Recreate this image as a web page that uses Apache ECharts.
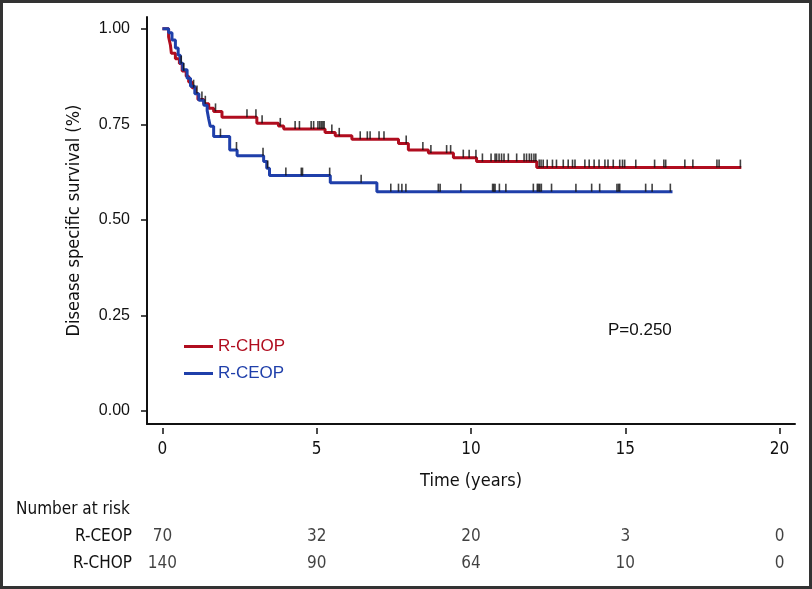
<!DOCTYPE html>
<html><head><meta charset="utf-8">
<script src="https://cdn.jsdelivr.net/npm/echarts@6/dist/echarts.min.js"></script>
<style>html,body{margin:0;padding:0;background:#fff}#c{width:812px;height:589px}</style>
</head><body><div id="c"></div>
<script>
// R-CHOP Kaplan-Meier steps (time in years, survival after drop)
const chopTimes = [0,0.2,0.26,0.29,0.42,0.55,0.64,0.77,0.85,0.96,1.07,1.15,1.34,1.5,1.66,1.93,3.06,3.76,3.93,5.27,5.6,6.14,7.65,7.97,8.62,9.43,10.18,12.13,18.76];
const chopSurv  = [1,0.979,0.957,0.936,0.922,0.909,0.89,0.876,0.861,0.846,0.831,0.815,0.804,0.792,0.784,0.769,0.753,0.746,0.738,0.729,0.72,0.711,0.70,0.683,0.675,0.663,0.653,0.637,0.637];
const chopCensor = [0.61,0.69,1.01,1.12,1.28,1.39,1.72,2.74,3.03,3.23,3.82,4.30,4.44,4.82,4.90,5.04,5.10,5.15,5.20,5.24,5.49,5.73,6.41,6.64,6.73,7.02,7.18,7.90,8.44,8.70,9.21,9.34,9.75,9.94,10.16,10.37,10.65,10.78,10.83,10.91,10.99,11.07,11.21,11.48,11.72,11.80,11.89,11.96,12.04,12.10,12.21,12.27,12.34,12.47,12.64,12.77,12.99,13.15,13.29,13.37,13.69,13.83,13.99,14.15,14.34,14.44,14.61,14.82,14.91,14.98,15.34,15.95,16.25,16.31,16.93,17.19,17.97,18.04,18.73];
// R-CEOP Kaplan-Meier steps
const ceopTimes = [0,0.2,0.31,0.42,0.51,0.58,0.66,0.8,0.91,1.05,1.18,1.34,1.45,1.5,1.55,1.66,2.18,2.42,3.28,3.38,3.47,5.44,6.95,16.53];
const ceopSurv  = [1,0.99,0.971,0.95,0.931,0.91,0.893,0.871,0.85,0.83,0.813,0.8,0.786,0.764,0.745,0.718,0.683,0.668,0.653,0.635,0.616,0.597,0.574,0.574];
const ceopCensor = [1.88,2.40,3.26,3.41,4.0,4.50,4.54,5.42,6.44,7.40,7.65,7.76,7.89,8.94,9.00,9.67,10.70,10.74,10.78,10.92,11.13,12.02,12.15,12.19,12.23,12.28,12.61,13.40,13.91,14.17,14.73,14.78,14.82,15.66,15.87,16.46];
// Number at risk table
const riskTimes = [0,5,10,15,20];
const riskCEOP = [70,32,20,3,0];
const riskCHOP = [140,90,64,10,0];
const xTicks = [0,5,10,15,20];
const yTicks = [0,0.25,0.5,0.75,1];

const RED = '#b00d1f', BLUE = '#1f3faa', INK = '#111111';
const NARROW = "'Liberation Sans Narrow','DejaVu Sans Condensed',sans-serif";
const REG = "'Liberation Sans',Arial,sans-serif";

function survAt(times, surv, t){ let v = surv[0]; for(let i=0;i<times.length;i++){ if(times[i] <= t) v = surv[i]; } return v; }
const pair = (a,b) => a.map((t,i)=>[t,b[i]]);
const censorPts = (c,times,surv) => c.map(t=>[t, survAt(times,surv,t)]);

const chart = echarts.init(document.getElementById('c'), null, {renderer:'canvas'});
const censorStyle = {type:'scatter', symbol:'rect', symbolSize:[1.6,8], symbolOffset:[0,-4], itemStyle:{color:'#111'}, silent:true, z:5};
chart.setOption({
  animation:false,
  grid:[
    {left:147, top:17, width:648, height:407},
    {left:147, top:523, width:648, height:54}
  ],
  legend:{
    orient:'vertical', left:179, top:333, itemWidth:29, itemHeight:3, itemGap:10, icon:'rect',
    textStyle:{fontSize:17, fontFamily:REG},
    data:[{name:'R-CHOP', textStyle:{color:RED}}, {name:'R-CEOP', textStyle:{color:BLUE}}]
  },
  xAxis:[
    {gridIndex:0, type:'value', min:-0.5, max:20.5,
     axisLine:{show:true, onZero:false, lineStyle:{color:INK, width:2}}, axisTick:{show:false}, splitLine:{show:false},
     axisLabel:{customValues:xTicks, margin:17, fontSize:17, fontFamily:NARROW, color:INK},
     name:'Time (years)', nameLocation:'middle', nameGap:48, nameTextStyle:{fontSize:18, fontFamily:NARROW, color:INK}},
    {gridIndex:0, type:'value', min:-0.5, max:20.5, position:'bottom', offset:4,
     axisLine:{show:false, onZero:false}, axisLabel:{show:false}, splitLine:{show:false},
     axisTick:{show:true, customValues:xTicks, length:6, lineStyle:{color:INK, width:1.5}}},
    {gridIndex:1, type:'value', min:-0.5, max:20.5, show:false}
  ],
  yAxis:[
    {gridIndex:0, type:'value', min:-0.034, max:1.031,
     axisLine:{show:true, onZero:false, lineStyle:{color:INK, width:2}}, splitLine:{show:false},
     axisTick:{show:true, customValues:yTicks, length:6, lineStyle:{color:INK, width:1.5}},
     axisLabel:{customValues:yTicks, formatter:v=>v.toFixed(2), margin:17, fontSize:16, fontFamily:REG, color:INK},
     name:'Disease specific survival (%)', nameLocation:'middle', nameGap:64, nameTextStyle:{fontSize:18, fontFamily:NARROW, color:INK}},
    {gridIndex:1, type:'category', data:['R-CEOP','R-CHOP'], inverse:true,
     axisLine:{show:false}, axisTick:{show:false}, splitLine:{show:false},
     axisLabel:{margin:15, fontSize:17, fontFamily:NARROW, color:INK}}
  ],
  series:[
    {name:'R-CHOP', type:'line', step:'end', xAxisIndex:0, yAxisIndex:0, data:pair(chopTimes,chopSurv), symbol:'none', lineStyle:{color:RED, width:3}, itemStyle:{color:RED}, z:3},
    {name:'R-CEOP', type:'line', step:'end', xAxisIndex:0, yAxisIndex:0, data:pair(ceopTimes,ceopSurv), symbol:'none', lineStyle:{color:BLUE, width:3}, itemStyle:{color:BLUE}, z:3},
    Object.assign({name:'chopCensor', xAxisIndex:0, yAxisIndex:0, data:censorPts(chopCensor,chopTimes,chopSurv)}, censorStyle),
    Object.assign({name:'ceopCensor', xAxisIndex:0, yAxisIndex:0, data:censorPts(ceopCensor,ceopTimes,ceopSurv)}, censorStyle),
    {name:'riskCEOP', type:'scatter', xAxisIndex:2, yAxisIndex:1, symbolSize:1, itemStyle:{color:'rgba(0,0,0,0)'}, silent:true,
     data:riskTimes.map((t,i)=>[t,'R-CEOP',riskCEOP[i]]),
     label:{show:true, position:'inside', formatter:p=>String(p.value[2]), fontSize:17, fontFamily:NARROW, color:INK}},
    {name:'riskCHOP', type:'scatter', xAxisIndex:2, yAxisIndex:1, symbolSize:1, itemStyle:{color:'rgba(0,0,0,0)'}, silent:true,
     data:riskTimes.map((t,i)=>[t,'R-CHOP',riskCHOP[i]]),
     label:{show:true, position:'inside', formatter:p=>String(p.value[2]), fontSize:17, fontFamily:NARROW, color:INK}}
  ],
  graphic:[
    {type:'text', left:16, top:501, style:{text:'Number at risk', font:"17px 'Liberation Sans Narrow','DejaVu Sans Condensed',sans-serif", fill:INK}},
    {type:'text', left:608, top:322, style:{text:'P=0.250', font:"17px 'Liberation Sans',Arial,sans-serif", fill:INK}},
    {type:'rect', shape:{x:1.5, y:1.5, width:809, height:586}, style:{fill:'none', stroke:'#333', lineWidth:3}, silent:true}
  ]
});
</script></body></html>
